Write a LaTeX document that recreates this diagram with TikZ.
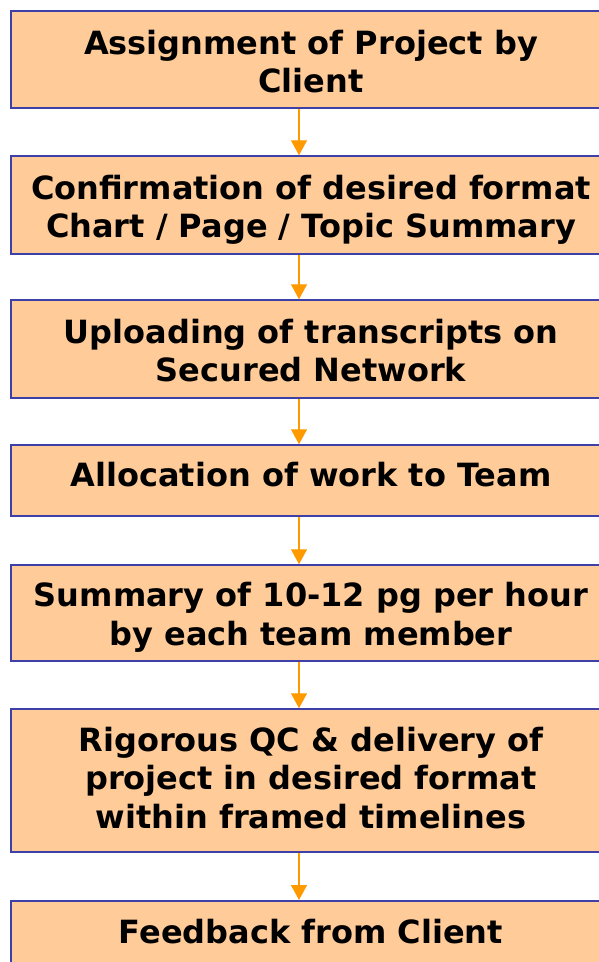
\documentclass[tikz,border=0pt]{standalone}
\usepackage{fontspec}
\setmainfont{DejaVu Sans}
\usetikzlibrary{arrows.meta}
\definecolor{boxfill}{HTML}{FFCC99}
\definecolor{boxline}{HTML}{3F3FA8}
\definecolor{arrcol}{HTML}{FF9900}
\newcommand\fstrut{\rule{0pt}{25pt}}
\tikzset{
  stepbox/.style={draw=boxline, line width=1.5pt, fill=boxfill, rectangle,
    minimum width=600pt, inner sep=0pt},
  txt/.style={anchor=north, inner sep=0pt, align=center,
    font=\bfseries\fontsize{32}{38.4}\selectfont},
  arr/.style={draw=arrcol, line width=1.4pt, -{Triangle[width=16pt,length=15pt]}}
}
\begin{document}
\begin{tikzpicture}[x=1pt,y=-1pt]
\useasboundingbox (0,0) rectangle (599,962);
\clip (0,0) rectangle (599,962);
\coordinate (ax) at (299,0);
\node[stepbox, minimum height=97pt] (b1) at (311,59.5) {};
\node[stepbox, minimum height=98pt] (b2) at (311,205) {};
\node[stepbox, minimum height=98pt] (b3) at (311,349) {};
\node[stepbox, minimum height=71pt] (b4) at (311,480.5) {};
\node[stepbox, minimum height=96pt] (b5) at (311,613) {};
\node[stepbox, minimum height=143pt] (b6) at (311,780.5) {};
\node[stepbox, minimum height=70pt, anchor=north] (b7) at (311,900) {};
\node[txt] (t1) at (311,29) {\fstrut Assignment of Project by\\Client};
\node[txt] (t2) at (311,174.3) {\fstrut Confirmation of desired format\\Chart / Page / Topic Summary};
\node[txt] (t3) at (311,318.3) {\fstrut Uploading of transcripts on\\Secured Network};
\node[txt] (t4) at (311,461.7) {\fstrut Allocation of work to Team};
\node[txt] (t5) at (311,581.7) {\fstrut Summary of 10-12 pg per hour\\by each team member};
\node[txt] (t6) at (311,726) {\fstrut Rigorous QC \& delivery of\\project in desired format\\within framed timelines};
\node[txt] (t7) at (311,918.3) {\fstrut Feedback from Client};
\draw[arr] (b1.south -| ax) -- (b2.north -| ax);
\draw[arr] (b2.south -| ax) -- (b3.north -| ax);
\draw[arr] (b3.south -| ax) -- (b4.north -| ax);
\draw[arr] (b4.south -| ax) -- (b5.north -| ax);
\draw[arr] (b5.south -| ax) -- (b6.north -| ax);
\draw[arr] (b6.south -| ax) -- (b7.north -| ax);
\end{tikzpicture}
\end{document}
